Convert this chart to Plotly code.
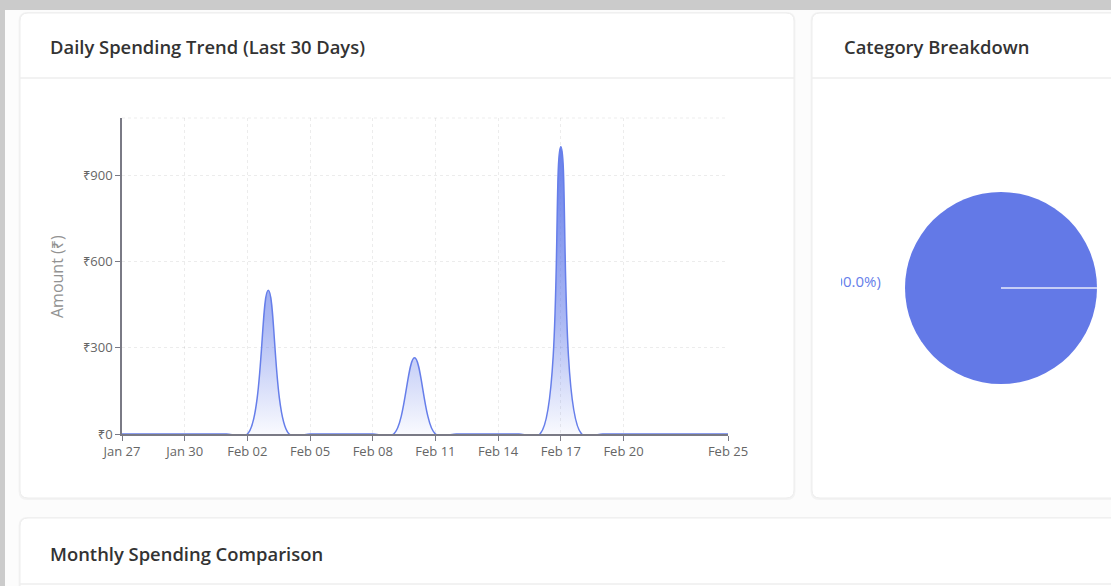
import plotly.graph_objects as go

# ---------------- data ----------------
dates = [
    "2025-01-27", "2025-01-28", "2025-01-29", "2025-01-30", "2025-01-31",
    "2025-02-01", "2025-02-02", "2025-02-03", "2025-02-04", "2025-02-05",
    "2025-02-06", "2025-02-07", "2025-02-08", "2025-02-09", "2025-02-10",
    "2025-02-11", "2025-02-12", "2025-02-13", "2025-02-14", "2025-02-15",
    "2025-02-16", "2025-02-17", "2025-02-18", "2025-02-19", "2025-02-20",
    "2025-02-21", "2025-02-22", "2025-02-23", "2025-02-24", "2025-02-25",
]
amounts = [
    0, 0, 0, 0, 0,
    0, 0, 500, 0, 0,
    0, 0, 0, 0, 265,
    0, 0, 0, 0, 0,
    0, 1000, 0, 0, 0,
    0, 0, 0, 0, 0,
]
x_tick_dates = ["2025-01-27", "2025-01-30", "2025-02-02", "2025-02-05", "2025-02-08",
                "2025-02-11", "2025-02-14", "2025-02-17", "2025-02-20", "2025-02-25"]
y_tick_vals = [0, 300, 600, 900]
y_tick_text = ["₹0", "₹300", "₹600", "₹900"]

categories = ["Food"]
category_values = [2765]
category_label = "(100.0%)"

titles = ["Daily Spending Trend (Last 30 Days)", "Category Breakdown", "Monthly Spending Comparison"]

# ---------------- layout helpers ----------------
W, H = 1111, 586
BLUE = "#667eea"
FONT = "Open Sans, Noto Sans, DejaVu Sans, sans-serif"


def fx(px):
    return px / W


def fy(py):
    return 1 - py / H


def rrect(x0, y0, x1, y1, r=8):
    rx, ry = r / W, r / H
    X0, X1, Y0, Y1 = fx(x0), fx(x1), fy(y1), fy(y0)  # Y1 top
    return (f"M{X0+rx},{Y1} L{X1-rx},{Y1} Q{X1},{Y1} {X1},{Y1-ry} "
            f"L{X1},{Y0+ry} Q{X1},{Y0} {X1-rx},{Y0} L{X0+rx},{Y0} "
            f"Q{X0},{Y0} {X0},{Y0+ry} L{X0},{Y1-ry} Q{X0},{Y1} {X0+rx},{Y1} Z")


fig = go.Figure()

# line chart
fig.add_trace(go.Scatter(
    x=dates, y=amounts, mode="lines",
    line=dict(color=BLUE, width=1.5, shape="spline", smoothing=1.0),
    fill="tozeroy",
    fillgradient=dict(type="vertical", start=0, stop=1000,
                      colorscale=[[0, "rgba(102,126,234,0.04)"],
                                  [0.4, "rgba(102,126,234,0.55)"],
                                  [1, "rgba(102,126,234,1.0)"]]),
    xaxis="x", yaxis="y", showlegend=False, hoverinfo="x+y",
))

# pie chart
fig.add_trace(go.Pie(
    labels=categories, values=category_values,
    marker=dict(colors=["#6379e7"]),
    textinfo="none", sort=False, showlegend=False,
    domain=dict(x=[fx(905), fx(1097)], y=[fy(384), fy(192)]),
))

# clipped outside label of the pie
fig.add_trace(go.Scatter(
    x=[1], y=[0.5], mode="text", text=[category_label],
    textposition="middle left",
    textfont=dict(color=BLUE, size=15, family=FONT),
    cliponaxis=True, xaxis="x3", yaxis="y3", showlegend=False, hoverinfo="skip",
))

grid = "rgba(0,0,0,0.075)"
axis_col = "#7a7a85"

shapes = [
    # grey browser strips
    dict(type="rect", xref="paper", yref="paper", x0=0, x1=1, y0=fy(10), y1=1,
         fillcolor="#cbcbcb", line_width=0, layer="below"),
    dict(type="rect", xref="paper", yref="paper", x0=0, x1=fx(5), y0=0, y1=1,
         fillcolor="#cbcbcb", line_width=0, layer="below"),
]
# cards (soft shadow + body)
for (x0, y0, x1, y1) in [(20, 13, 794, 498), (812, 13, 1125, 498), (20, 518, 1125, 610)]:
    shapes.append(dict(type="path", xref="paper", yref="paper",
                       path=rrect(x0 - 1.5, y0 - 1, x1 + 1.5, y1 + 2, 9),
                       fillcolor="#f3f3f3", line_width=0, layer="below"))
    shapes.append(dict(type="path", xref="paper", yref="paper",
                       path=rrect(x0, y0, x1, y1, 8),
                       fillcolor="white", line=dict(color="#ededed", width=1), layer="below"))
# card header separators
for (x0, x1, y) in [(20, 794, 78), (812, 1111, 78), (20, 1111, 584)]:
    shapes.append(dict(type="line", xref="paper", yref="paper",
                       x0=fx(x0), x1=fx(x1), y0=fy(y), y1=fy(y),
                       line=dict(color="#eeeeee", width=1.5), layer="below"))
# top dashed grid border of the line chart
shapes.append(dict(type="line", xref="x domain", yref="y domain", x0=0, x1=1, y0=1, y1=1,
                   line=dict(color=grid, width=1, dash="3px,3px"), layer="below"))
# radial seam of the single pie slice
shapes.append(dict(type="line", xref="paper", yref="paper",
                   x0=fx(1001), x1=fx(1097), y0=fy(288), y1=fy(288),
                   line=dict(color="rgba(255,255,255,0.85)", width=1.5), layer="above"))

title_font = dict(family=FONT, size=18.4, color="#333333", weight=600)
annotations = [
    dict(text=titles[0], x=fx(48), y=fy(46), xref="paper", yref="paper",
         xanchor="left", yanchor="middle", showarrow=False, font=title_font),
    dict(text=titles[1], x=fx(842), y=fy(46), xref="paper", yref="paper",
         xanchor="left", yanchor="middle", showarrow=False, font=title_font),
    dict(text=titles[2], x=fx(48), y=fy(553), xref="paper", yref="paper",
         xanchor="left", yanchor="middle", showarrow=False, font=title_font),
    dict(text="Amount (₹)", x=fx(57), y=fy(277), xref="paper", yref="paper",
         textangle=-90, xanchor="center", yanchor="middle", showarrow=False,
         font=dict(family=FONT, size=16, color="#929292")),
]

tickfont = dict(size=13, color="#666666")
fig.update_layout(
    width=W, height=H,
    margin=dict(l=0, r=0, t=0, b=0),
    paper_bgcolor="#fcfcfc",
    plot_bgcolor="rgba(0,0,0,0)",
    font=dict(family=FONT, size=12, color="#666666"),
    shapes=shapes,
    annotations=annotations,
    xaxis=dict(
        domain=[fx(122), fx(728)], anchor="y",
        type="date", range=["2025-01-27", "2025-02-25"],
        tickvals=x_tick_dates, tickformat="%b %d",
        showgrid=True, gridcolor=grid, griddash="3px,3px", gridwidth=1,
        showline=True, linecolor=axis_col, linewidth=1.5,
        ticks="outside", ticklen=5, tickcolor=axis_col,
        tickfont=tickfont,
        zeroline=False, fixedrange=True, automargin=False,
    ),
    yaxis=dict(
        domain=[fy(434), fy(118)], anchor="x",
        range=[0, 1100],
        tickvals=y_tick_vals, ticktext=y_tick_text,
        showgrid=True, gridcolor=grid, griddash="3px,3px", gridwidth=1,
        showline=True, linecolor=axis_col, linewidth=1.5,
        ticks="outside", ticklen=5, tickcolor=axis_col,
        tickfont=tickfont,
        zeroline=False, fixedrange=True, automargin=False,
    ),
    xaxis3=dict(domain=[fx(841), fx(880.8)], anchor="y3", range=[0, 1],
                visible=False, fixedrange=True),
    yaxis3=dict(domain=[fy(300), fy(266)], anchor="x3", range=[0, 1],
                visible=False, fixedrange=True),
)

fig.write_html(
    "out.html",
    config={"displayModeBar": False},
    post_script="document.body.style.margin='0';document.body.style.overflow='hidden';",
)
